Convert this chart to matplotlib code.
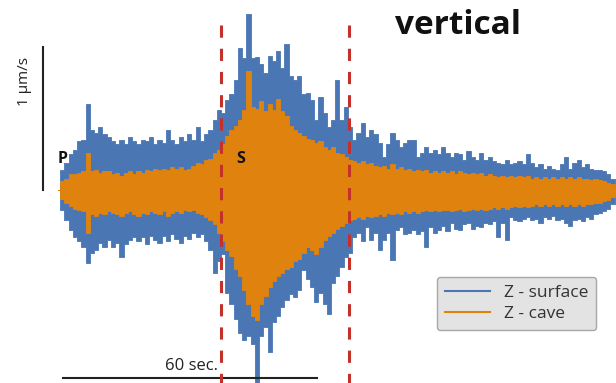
import numpy as np
import matplotlib
matplotlib.use("Agg")
import matplotlib.pyplot as plt
from matplotlib.lines import Line2D

plt.rcParams["font.family"] = ["Open Sans", "DejaVu Sans"]

# Peak amplitudes (um/s) read from the record, one upper and one lower peak per second
blue_up = [
    0.00, 0.14, 0.19, 0.25, 0.28, 0.34, 0.35, 0.60, 0.42, 0.40,
    0.44, 0.39, 0.37, 0.34, 0.32, 0.35, 0.32, 0.37, 0.34, 0.32,
    0.35, 0.34, 0.37, 0.32, 0.35, 0.33, 0.42, 0.35, 0.32, 0.37,
    0.34, 0.39, 0.35, 0.44, 0.34, 0.39, 0.42, 0.49, 0.56, 0.54,
    0.63, 0.67, 0.77, 0.99, 0.92, 1.23, 0.92, 0.93, 0.88, 0.82,
    0.94, 0.90, 0.97, 0.85, 1.02, 0.80, 0.77, 0.80, 0.67, 0.68,
    0.63, 0.49, 0.65, 0.54, 0.44, 0.49, 0.77, 0.49, 0.58, 0.44,
    0.35, 0.40, 0.47, 0.37, 0.42, 0.39, 0.33, 0.23, 0.32, 0.40,
    0.35, 0.30, 0.33, 0.35, 0.35, 0.23, 0.26, 0.30, 0.26, 0.28,
    0.25, 0.30, 0.26, 0.23, 0.26, 0.25, 0.21, 0.27, 0.23, 0.21,
    0.26, 0.21, 0.23, 0.20, 0.19, 0.18, 0.21, 0.18, 0.19, 0.20,
    0.18, 0.25, 0.19, 0.16, 0.18, 0.15, 0.17, 0.15, 0.14, 0.18,
    0.23, 0.15, 0.19, 0.21, 0.16, 0.18, 0.15, 0.14, 0.14, 0.13,
    0.11, 0.08, 0.04,
]
blue_dn = [
    0.00, -0.14, -0.21, -0.28, -0.33, -0.36, -0.40, -0.51, -0.44, -0.42,
    -0.37, -0.40, -0.35, -0.40, -0.37, -0.47, -0.38, -0.35, -0.33, -0.36,
    -0.33, -0.38, -0.32, -0.35, -0.37, -0.32, -0.36, -0.31, -0.34, -0.37,
    -0.32, -0.34, -0.30, -0.33, -0.31, -0.36, -0.42, -0.58, -0.50, -0.45,
    -0.72, -0.80, -0.90, -1.00, -1.05, -1.02, -1.08, -1.36, -1.02, -0.96,
    -1.13, -0.92, -0.88, -0.82, -0.77, -0.73, -0.75, -0.70, -0.56, -0.62,
    -0.68, -0.78, -0.72, -0.80, -0.87, -0.65, -0.60, -0.54, -0.47, -0.44,
    -0.33, -0.30, -0.36, -0.26, -0.35, -0.30, -0.42, -0.35, -0.30, -0.49,
    -0.28, -0.26, -0.31, -0.30, -0.28, -0.31, -0.29, -0.40, -0.26, -0.30,
    -0.28, -0.25, -0.29, -0.23, -0.27, -0.28, -0.24, -0.23, -0.27, -0.25,
    -0.26, -0.23, -0.24, -0.22, -0.33, -0.23, -0.35, -0.19, -0.21, -0.22,
    -0.20, -0.19, -0.21, -0.20, -0.23, -0.19, -0.20, -0.18, -0.21, -0.20,
    -0.23, -0.25, -0.21, -0.20, -0.22, -0.19, -0.20, -0.17, -0.16, -0.15,
    -0.13, -0.10, -0.05,
]
orange_up = [
    0.00, 0.06, 0.08, 0.11, 0.11, 0.12, 0.13, 0.26, 0.13, 0.14,
    0.12, 0.13, 0.13, 0.11, 0.12, 0.10, 0.12, 0.13, 0.11, 0.13,
    0.12, 0.14, 0.13, 0.15, 0.14, 0.15, 0.14, 0.16, 0.15, 0.16,
    0.14, 0.15, 0.17, 0.19, 0.18, 0.21, 0.22, 0.26, 0.28, 0.32,
    0.38, 0.42, 0.45, 0.49, 0.56, 0.83, 0.58, 0.57, 0.62, 0.55,
    0.60, 0.56, 0.64, 0.55, 0.52, 0.45, 0.42, 0.40, 0.38, 0.36,
    0.35, 0.33, 0.34, 0.30, 0.28, 0.30, 0.26, 0.25, 0.23, 0.21,
    0.20, 0.19, 0.20, 0.18, 0.19, 0.17, 0.16, 0.17, 0.15, 0.18,
    0.15, 0.16, 0.14, 0.15, 0.13, 0.14, 0.13, 0.14, 0.12, 0.13,
    0.12, 0.13, 0.12, 0.13, 0.11, 0.13, 0.12, 0.11, 0.12, 0.11,
    0.12, 0.10, 0.11, 0.10, 0.09, 0.10, 0.09, 0.10, 0.09, 0.10,
    0.09, 0.10, 0.08, 0.09, 0.08, 0.09, 0.08, 0.09, 0.08, 0.09,
    0.08, 0.09, 0.08, 0.09, 0.08, 0.08, 0.07, 0.08, 0.07, 0.06,
    0.05, 0.04, 0.02,
]
orange_dn = [
    0.00, -0.06, -0.09, -0.11, -0.13, -0.14, -0.15, -0.30, -0.17, -0.18,
    -0.16, -0.17, -0.15, -0.16, -0.17, -0.18, -0.16, -0.15, -0.17, -0.18,
    -0.16, -0.17, -0.15, -0.16, -0.17, -0.15, -0.18, -0.16, -0.15, -0.16,
    -0.14, -0.15, -0.14, -0.16, -0.17, -0.19, -0.21, -0.24, -0.30, -0.36,
    -0.42, -0.46, -0.55, -0.60, -0.70, -0.80, -0.88, -0.91, -0.80, -0.74,
    -0.68, -0.64, -0.60, -0.58, -0.55, -0.54, -0.50, -0.48, -0.44, -0.40,
    -0.42, -0.45, -0.40, -0.35, -0.32, -0.30, -0.27, -0.25, -0.23, -0.21,
    -0.20, -0.19, -0.20, -0.18, -0.19, -0.18, -0.17, -0.18, -0.16, -0.17,
    -0.16, -0.17, -0.15, -0.16, -0.15, -0.16, -0.15, -0.14, -0.15, -0.14,
    -0.15, -0.14, -0.14, -0.15, -0.14, -0.13, -0.15, -0.14, -0.13, -0.14,
    -0.13, -0.14, -0.13, -0.12, -0.13, -0.12, -0.13, -0.12, -0.11, -0.12,
    -0.11, -0.12, -0.11, -0.10, -0.11, -0.10, -0.11, -0.10, -0.11, -0.10,
    -0.11, -0.10, -0.11, -0.10, -0.11, -0.10, -0.10, -0.09, -0.09, -0.08,
    -0.07, -0.05, -0.02,
]

p_time = 1.2      # s
s_time = 43.2     # s
window = [38.5, 68.75]  # s, dashed markers
scale_sec = 60
scale_amp = 1.0

blue = "#4a77b4"
orange = "#e0820e"

fig = plt.figure(figsize=(6.16, 3.83), dpi=100)
ax = fig.add_axes([0, 0, 1, 1])
ax.set_xlim(-13.70, 131.82)
ax.set_ylim(-1.350, 1.329)
ax.axis("off")

t = np.arange(len(blue_up), dtype=float)
ax.fill_between(t, blue_dn, blue_up, step="mid", color=blue, lw=0.6)
ax.fill_between(t, orange_dn, orange_up, step="mid", color=orange, lw=0.6)

for x in window:
    ax.plot([x, x], [1.154, -1.36], color="#c4302a", lw=2.2,
            dashes=(4, 3.6), zorder=5)

# scale bars
ax.plot([-3.54, -3.54], [0, scale_amp], color="#222222", lw=1.5)
ax.text(-7.8, 0.76, "1 µm/s", rotation=90, ha="center", va="center",
        fontsize=11, color="#222222")
ax.plot([1.18, 1.18 + scale_sec], [-1.315, -1.315], color="#222222", lw=1.5)
ax.text(37.8, -1.29, "60 sec.", ha="right", va="bottom", fontsize=12,
        color="#222222")

ax.text(p_time, 0.22, "P", ha="center", va="center", fontsize=11.5,
        fontweight="bold", color="#111111", zorder=6)
ax.text(s_time, 0.22, "S", ha="center", va="center", fontsize=11.5,
        fontweight="bold", color="#111111", zorder=6)

ax.text(94.5, 1.15, "vertical", ha="center", va="center", fontsize=24,
        fontweight="bold", color="#111111")

handles = [Line2D([], [], color=blue, lw=1.5), Line2D([], [], color=orange, lw=1.5)]
leg = ax.legend(handles, ["Z - surface", "Z - cave"], loc="upper left",
                bbox_to_anchor=(437 / 616, 1 - 277 / 383), borderaxespad=0,
                fontsize=12.5, frameon=True, fancybox=True, handlelength=2.6,
                borderpad=0.45, labelspacing=0.3, handletextpad=0.8)
leg.get_frame().set_facecolor("#e3e3e3")
leg.get_frame().set_edgecolor("#a8a8a8")
leg.get_frame().set_alpha(1.0)
for txt in leg.get_texts():
    txt.set_color("#333333")

fig.savefig("out.png", dpi=100)
